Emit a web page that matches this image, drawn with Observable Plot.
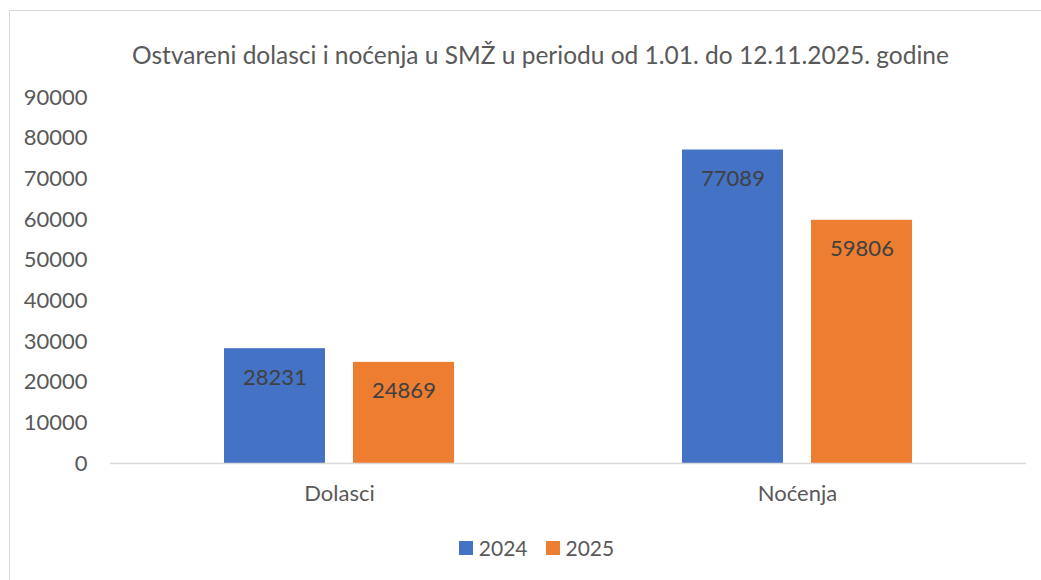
<!DOCTYPE html>
<html>
<head>
<meta charset="utf-8">
<script src="https://cdn.jsdelivr.net/npm/d3@7"></script>
<script src="https://cdn.jsdelivr.net/npm/@observablehq/plot@0.6"></script>
<style>
  html, body { margin: 0; padding: 0; background: #fff; }
  body { width: 1041px; height: 580px; position: relative; overflow: hidden; font-family: Lato, "Open Sans", sans-serif; }
  #frame { position: absolute; left: 9px; top: 10px; width: 1100px; height: 700px; border-left: 1px solid #d9d9d9; border-top: 1px solid #d9d9d9; }
  #title { position: absolute; left: 0; width: 1081px; top: 40px; text-align: center; font-size: 24.5px; color: #595959; line-height: 30px; white-space: nowrap; }
  #chart { position: absolute; left: 0; top: 80px; }
  #legend { position: absolute; left: 16px; width: 1041px; top: 535px; display: flex; justify-content: center; align-items: center; font-size: 21px; color: #595959; }
  .sw { display: inline-block; width: 14px; height: 14px; margin-right: 6px; }
  .item { display: flex; align-items: center; margin: 0 9px; }
</style>
</head>
<body>
<div id="frame"></div>
<div id="title">Ostvareni dolasci i noćenja u SMŽ u periodu od 1.01. do 12.11.2025. godine</div>
<div id="chart"></div>
<div id="legend"></div>
<script>
const categories = ["Dolasci", "Noćenja"];
const years = ["2024", "2025"];
const values2024 = [28231, 77089];
const values2025 = [24869, 59806];
const colors = ["#4472C4", "#ED7D31"];
const yTicks = [0, 10000, 20000, 30000, 40000, 50000, 60000, 70000, 80000, 90000];

const data = [];
categories.forEach((c, i) => {
  data.push({category: c, year: years[0], value: values2024[i]});
  data.push({category: c, year: years[1], value: values2025[i]});
});

const plot = Plot.plot({
  width: 1041,
  height: 440,
  marginTop: 17,
  marginBottom: 57,
  marginLeft: 109,
  marginRight: 15,
  style: {fontSize: "22px", fontFamily: "Lato, 'Open Sans', sans-serif", color: "#595959", background: "transparent"},
  fx: {domain: categories, padding: 0, label: null, axis: "bottom", tickSize: 0, tickPadding: 22},
  x: {domain: years, paddingInner: 0.215, paddingOuter: 0.87, axis: null},
  y: {domain: [0, 90000], ticks: yTicks, tickFormat: d => String(d), label: null, tickSize: 0, tickPadding: 23},
  color: {domain: years, range: colors},
  marks: [
    Plot.barY(data, {fx: "category", x: "year", y: "value", fill: "year"}),
    Plot.ruleY([0], {stroke: "#d9d9d9", strokeWidth: 1.5}),
    Plot.text(data, {fx: "category", x: "year", y: "value", text: d => String(d.value), dy: 29, fill: "#404040", fontSize: 22})
  ]
});
document.getElementById("chart").appendChild(plot);

const legend = document.getElementById("legend");
years.forEach((y, i) => {
  const item = document.createElement("div");
  item.className = "item";
  const sw = document.createElement("span");
  sw.className = "sw";
  sw.style.background = colors[i];
  item.appendChild(sw);
  item.appendChild(document.createTextNode(y));
  legend.appendChild(item);
});
</script>
</body>
</html>
